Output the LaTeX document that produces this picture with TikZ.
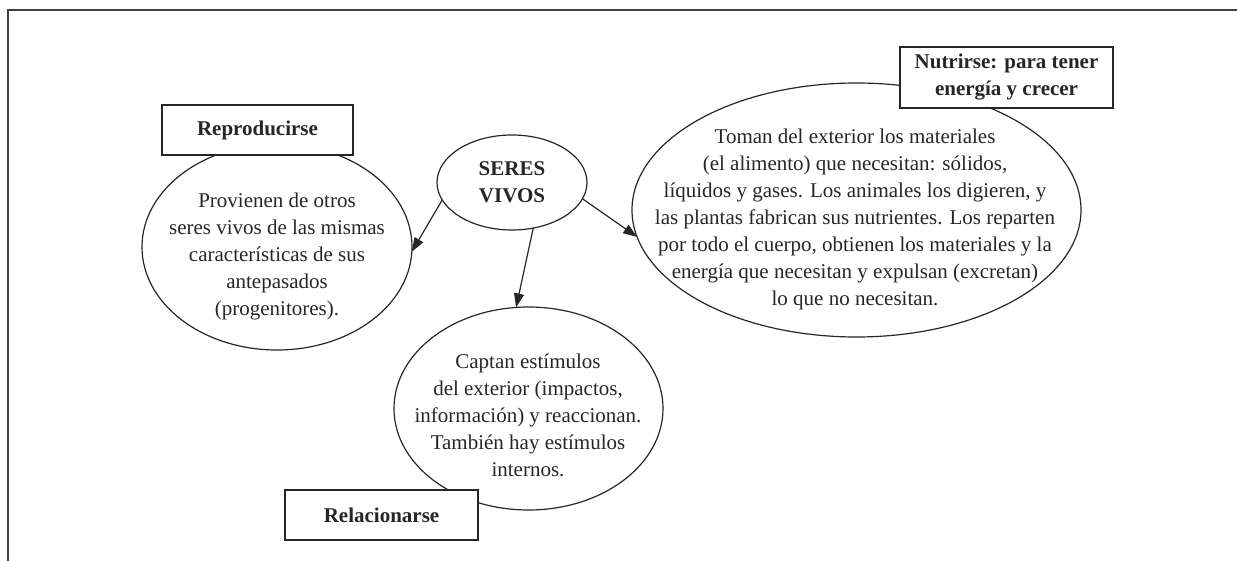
\documentclass[tikz,border=0pt]{standalone}
\usepackage{fontspec}
\setmainfont{Liberation Serif}
\usepackage{tikz}
\usetikzlibrary{shapes,arrows.meta,positioning}

\begin{document}
\begin{tikzpicture}[x=0.5pt,y=-0.5pt]
		\tikzstyle{Frame}	= [line width=0.7pt, black!75]
		\tikzstyle{Blob}	= [ellipse, draw, black!85, line width=0.6pt, inner sep=0pt, outer sep=0pt]
		\tikzstyle{Hub}		= [Blob, text=black!85, align=center, font=\bfseries\fontsize{10.5}{13.5}\selectfont]
		\tikzstyle{Title}	= [rectangle, draw, black!85, fill=white, line width=0.6pt, inner sep=0pt, text=black!85, align=center, font=\bfseries\fontsize{10.5}{13.5}\selectfont]
		\tikzstyle{Body}	= [align=center, text=black!85, font=\fontsize{10.5}{13.5}\selectfont]
		\tikzstyle{Link}	= [-{Triangle[length=7pt,width=5pt]}, line width=0.6pt, black!85]
		
		\useasboundingbox (0,0) rectangle (1237,561);
		\draw [Frame] (8,561) -- (8,10) -- (1237,10);
		
		\node (repro) at (277,247) [Blob, minimum width=135pt, minimum height=103pt] {};
		\node (seres) at (512,182.5) [Hub, minimum width=75pt, minimum height=47.5pt] {SERES\\VIVOS};
		\node (nutri) at (856.5,210) [Blob, minimum width=224.5pt, minimum height=127pt] {};
		\node (rel) at (528.5,408.5) [Blob, minimum width=134.5pt, minimum height=101.5pt] {};
		
		\node (reproTxt) at (277,256) [Body] {Provienen de otros\\seres vivos de las mismas\\características de sus\\antepasados\\(progenitores).};
		\node (nutriTxt) at (855,219) [Body] {Toman del exterior los materiales\\(el alimento) que necesitan: sólidos,\\líquidos y gases. Los animales los digieren, y\\las plantas fabrican sus nutrientes. Los reparten\\por todo el cuerpo, obtienen los materiales y la\\energía que necesitan y expulsan (excretan)\\lo que no necesitan.};
		\node (relTxt) at (528,415) [Body] {Captan estímulos\\del exterior (impactos,\\información) y reaccionan.\\También hay estímulos\\internos.};
		
		\node (reproLbl) at (257.5,130) [Title, minimum width=95.5pt, minimum height=25pt] {Reproducirse};
		\node (nutriLbl) at (1006.5,77.5) [Title, minimum width=106.5pt, minimum height=30.5pt] {Nutrirse: para tener\\energía y crecer};
		\node (relLbl) at (381.5,515) [Title, minimum width=96.5pt, minimum height=25pt] {Relacionarse};
		
		\draw [Link] (seres.194) to (repro.-2);
		\draw [Link] (seres.295) to (rel.97);
		\draw [Link] (seres.-13) to (nutri.187);
	\end{tikzpicture}
\end{document}
